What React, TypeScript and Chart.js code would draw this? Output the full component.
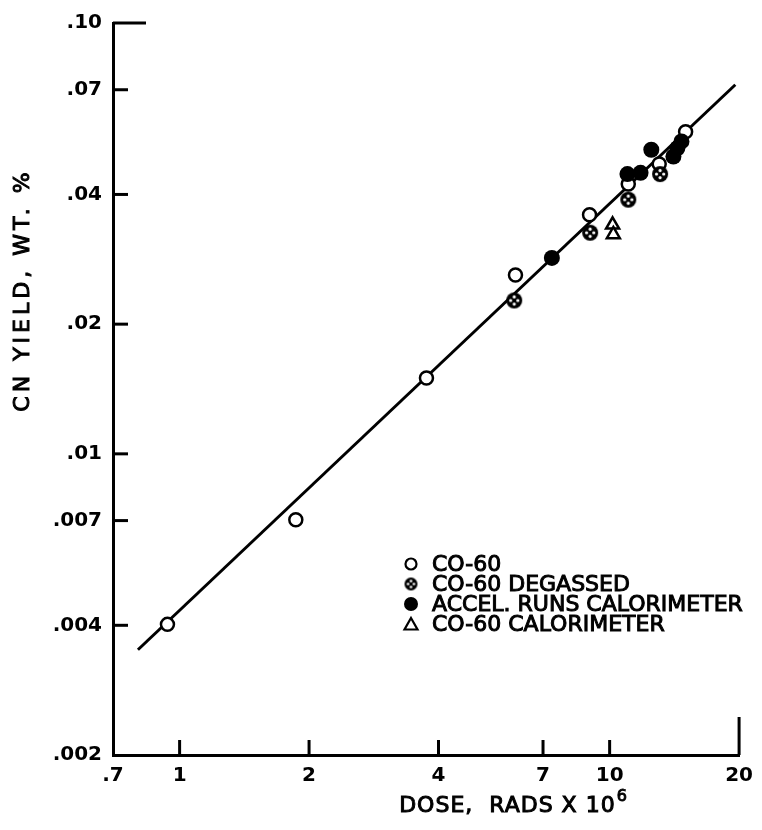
import React, { useEffect, useRef } from "react";
import { Chart, registerables } from "chart.js";

Chart.register(...registerables);

const xTicks = [0.7, 1, 2, 4, 7, 10, 20];
const xTickLabels = [".7", "1", "2", "4", "7", "10", "20"];
const yTicks = [0.002, 0.004, 0.007, 0.01, 0.02, 0.04, 0.07, 0.1];
const yTickLabels = [".002", ".004", ".007", ".01", ".02", ".04", ".07", ".10"];

const co60X = [0.937, 1.863, 3.75, 6.04, 8.98, 11.05, 13.04, 15.02];
const co60Y = [0.00402, 0.00703, 0.015, 0.026, 0.0359, 0.0423, 0.0471, 0.0559];
const degassedX = [6.0, 9.01, 11.05, 13.1];
const degassedY = [0.0227, 0.0326, 0.0389, 0.0446];
const accelX = [7.34, 11.0, 11.8, 12.5, 14.07, 14.37, 14.69];
const accelY = [0.0285, 0.0446, 0.0449, 0.0508, 0.049, 0.0512, 0.0531];
const calX = [10.16, 10.2];
const calY = [0.034, 0.0323];
const fitX = [0.8, 19.6];
const fitY = [0.00351, 0.0719];

const legendLabels = ["CO-60", "CO-60 DEGASSED", "ACCEL. RUNS CALORIMETER", "CO-60 CALORIMETER"];
const xTitle = "DOSE,  RADS X 10";
const xTitleSup = "6";
const yTitle = "CN YIELD, WT. %";

const FONT = "'DejaVu Sans', sans-serif";

function pts(xs: number[], ys: number[]) {
  return xs.map((x, i) => ({ x, y: ys[i] }));
}

function makeDegassed(r: number) {
  const size = Math.ceil(r * 2 + 2);
  const c = document.createElement("canvas");
  c.width = size;
  c.height = size;
  const g = c.getContext("2d")!;
  const m = size / 2;
  g.fillStyle = "#000";
  g.beginPath();
  g.arc(m, m, r, 0, Math.PI * 2);
  g.fill();
  g.fillStyle = "#fff";
  const d = r * 0.45;
  const dr = r * 0.2;
  for (const [dx, dy] of [[0, -d], [0, d], [-d, 0], [d, 0]]) {
    g.beginPath();
    g.arc(m + dx, m + dy, dr, 0, Math.PI * 2);
    g.fill();
  }
  return c;
}

function boldText(ctx: CanvasRenderingContext2D, t: string, x: number, y: number) {
  ctx.fillText(t, x, y);
  ctx.strokeText(t, x, y);
}

export default function App() {
  const ref = useRef<HTMLCanvasElement | null>(null);

  useEffect(() => {
    if (!ref.current) return;
    const degassedImg = makeDegassed(8);
    const degassedSmall = makeDegassed(6.5);

    const decor = {
      id: "decor",
      afterDraw(chart: any) {
        const ctx = chart.ctx as CanvasRenderingContext2D;
        const xs = chart.scales.x;
        const ys = chart.scales.y;
        const a = chart.chartArea;
        ctx.save();
        ctx.strokeStyle = "#000";
        ctx.lineWidth = 3;
        ctx.lineCap = "butt";
        // inward tick marks
        yTicks.forEach((v) => {
          if (v === yTicks[0]) return;
          const py = ys.getPixelForValue(v);
          const len = v === yTicks[yTicks.length - 1] ? 33 : 15;
          ctx.beginPath();
          ctx.moveTo(a.left, py);
          ctx.lineTo(a.left + len, py);
          ctx.stroke();
        });
        xTicks.forEach((v) => {
          if (v === xTicks[0]) return;
          const px = xs.getPixelForValue(v);
          const len = v === xTicks[xTicks.length - 1] ? 38 : 15;
          ctx.beginPath();
          ctx.moveTo(px, a.bottom);
          ctx.lineTo(px, a.bottom - len);
          ctx.stroke();
        });

        // legend
        const lx = 411;
        const ly0 = 564;
        const step = 20;
        ctx.font = `22px ${FONT}`;
        ctx.textBaseline = "middle";
        ctx.textAlign = "left";
        legendLabels.forEach((t, i) => {
          const y = ly0 + i * step;
          ctx.lineWidth = 2.2;
          if (i === 0) {
            ctx.beginPath();
            ctx.arc(lx, y, 5.5, 0, Math.PI * 2);
            ctx.fillStyle = "#fff";
            ctx.fill();
            ctx.stroke();
          } else if (i === 1) {
            ctx.drawImage(degassedSmall, lx - degassedSmall.width / 2, y - degassedSmall.height / 2);
          } else if (i === 2) {
            ctx.beginPath();
            ctx.arc(lx, y, 7, 0, Math.PI * 2);
            ctx.fillStyle = "#000";
            ctx.fill();
          } else {
            ctx.beginPath();
            ctx.moveTo(lx, y - 6);
            ctx.lineTo(lx + 6.5, y + 5.5);
            ctx.lineTo(lx - 6.5, y + 5.5);
            ctx.closePath();
            ctx.fillStyle = "#fff";
            ctx.fill();
            ctx.stroke();
          }
          ctx.fillStyle = "#000";
          ctx.lineWidth = 1;
          boldText(ctx, t, 432, y + 1);
        });

        // x title
        ctx.lineWidth = 1;
        ctx.font = `22px ${FONT}`;
        (ctx as any).letterSpacing = "1px";
        const w1 = ctx.measureText(xTitle).width;
        ctx.font = `16px ${FONT}`;
        const w2 = ctx.measureText(xTitleSup).width;
        const sx = 513 - (w1 + w2) / 2;
        ctx.font = `22px ${FONT}`;
        ctx.textBaseline = "middle";
        boldText(ctx, xTitle, sx, 806);
        ctx.font = `16px ${FONT}`;
        boldText(ctx, xTitleSup, sx + w1 + 1, 797);

        // y title
        ctx.save();
        ctx.translate(23, 290);
        ctx.rotate(-Math.PI / 2);
        ctx.font = `22px ${FONT}`;
        (ctx as any).letterSpacing = "4px";
        ctx.textAlign = "center";
        ctx.textBaseline = "middle";
        ctx.lineWidth = 1;
        boldText(ctx, yTitle, 0, 0);
        ctx.restore();

        ctx.restore();
      },
    };

    const chart = new Chart(ref.current, {
      type: "scatter",
      data: {
        datasets: [
          {
            label: "fit",
            type: "line",
            data: pts(fitX, fitY),
            showLine: true,
            borderColor: "#000",
            borderWidth: 3,
            pointRadius: 0,
            fill: false,
            order: 10,
          } as any,
          {
            label: legendLabels[0],
            data: pts(co60X, co60Y),
            pointStyle: "circle",
            pointRadius: 6.5,
            borderWidth: 2.5,
            borderColor: "#000",
            backgroundColor: "#fff",
            order: 4,
          },
          {
            label: legendLabels[1],
            data: pts(degassedX, degassedY),
            pointStyle: degassedImg,
            pointRadius: 8,
            order: 3,
          } as any,
          {
            label: legendLabels[2],
            data: pts(accelX, accelY),
            pointStyle: "circle",
            pointRadius: 8,
            borderWidth: 0,
            borderColor: "#000",
            backgroundColor: "#000",
            order: 2,
          },
          {
            label: legendLabels[3],
            data: pts(calX, calY),
            pointStyle: "triangle",
            pointRadius: 7.5,
            borderWidth: 2.5,
            borderColor: "#000",
            backgroundColor: "#fff",
            order: 1,
          },
        ],
      },
      options: {
        animation: false,
        responsive: false,
        maintainAspectRatio: false,
        layout: { padding: { top: 20, right: 20, left: 0, bottom: 0 } },
        plugins: {
          legend: { display: false },
          tooltip: { enabled: false },
        },
        scales: {
          x: {
            type: "logarithmic",
            min: 0.7,
            max: 20,
            afterBuildTicks: (s: any) => {
              s.ticks = xTicks.map((v) => ({ value: v }));
            },
            afterFit: (s: any) => {
              s.height = 75;
            },
            ticks: {
              callback: (_v: any, i: number) => xTickLabels[i],
              color: "#000",
              font: { family: FONT, size: 20, weight: "bold" },
              padding: 9,
              maxRotation: 0,
              autoSkip: false,
            },
            grid: { display: false, drawTicks: false },
            border: { display: true, color: "#000", width: 3 },
          },
          y: {
            type: "logarithmic",
            min: 0.002,
            max: 0.1,
            afterBuildTicks: (s: any) => {
              s.ticks = yTicks.map((v) => ({ value: v }));
            },
            afterFit: (s: any) => {
              s.width = 113;
            },
            ticks: {
              callback: (_v: any, i: number) => yTickLabels[i],
              color: "#000",
              font: { family: FONT, size: 20, weight: "bold" },
              padding: 11,
              autoSkip: false,
            },
            grid: { display: false, drawTicks: false },
            border: { display: true, color: "#000", width: 3 },
          },
        },
      },
      plugins: [decor],
    } as any);

    return () => chart.destroy();
  }, []);

  return (
    <div style={{ position: "absolute", left: 0, top: 0, width: 762, height: 830, background: "#fff" }}>
      <canvas ref={ref} width={762} height={830} style={{ display: "block", width: 762, height: 830 }} />
    </div>
  );
}
